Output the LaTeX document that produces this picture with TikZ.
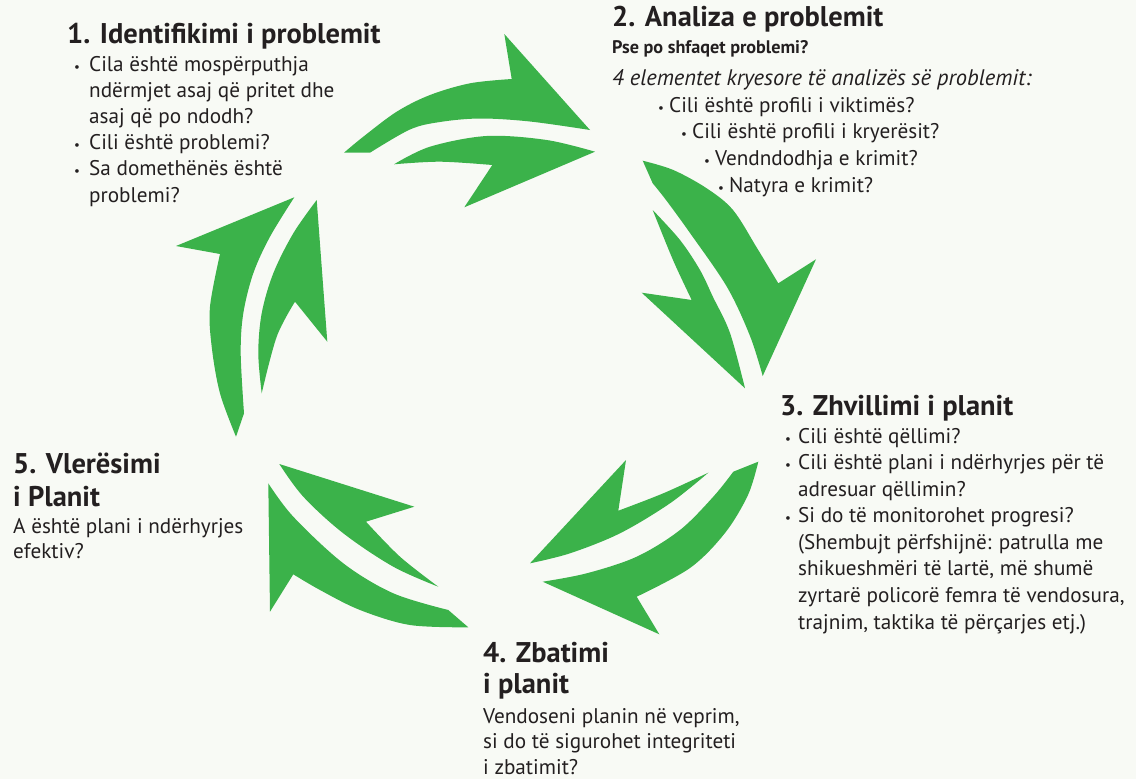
\documentclass[tikz,border=0pt]{standalone}
\usepackage{fontspec}
\setmainfont{PT Sans}
\definecolor{leaf}{RGB}{59,178,74}
\definecolor{ink}{RGB}{35,31,32}
\definecolor{paper}{RGB}{248,250,245}
\newcommand\bl{\makebox[15pt][l]{\fontsize{13}{13}\selectfont\textbullet}}
\newcommand\bls{\makebox[11pt][l]{\fontsize{13}{13}\selectfont\textbullet}}
\newcommand\blm{\makebox[13pt][l]{\fontsize{13}{13}\selectfont\textbullet}}
\begin{document}
\begin{tikzpicture}[x=1pt,y=-1pt,
  arrowpart/.style={fill=leaf},
  % multi-line nodes are anchored at the baseline of their last line
  heading/.style={anchor=base west,inner sep=0pt,align=left,text=ink,
    font=\fontsize{28.5}{32}\selectfont\bfseries},
  subhead/.style={anchor=base west,inner sep=0pt,align=left,text=ink,
    font=\fontsize{18.2}{22}\selectfont\bfseries},
  body/.style={anchor=base west,inner sep=0pt,align=left,text=ink,
    font=\fontsize{21.2}{26.2}\selectfont},
  smooth curve/.style={smooth,tension=0.55}]
\fill[paper] (0,0) rectangle (1136,779);
\useasboundingbox (0,0) rectangle (1136,779);

% ---- arrow pair between step 1 and step 2
\fill[arrowpart] (344,152.7) -- plot[smooth curve] coordinates {(344,152.7) (363.3,136.7) (396.7,111.7) (430,95) (470,83.3) (511.7,79)}
  -- (504.3,34) -- (590,130)
  -- plot[smooth curve] coordinates {(590,130) (530,121.5) (480,118.5) (440,122) (410,129.5) (370,152.7)} -- cycle;
\fill[arrowpart] (394,164.3) -- plot[smooth curve] coordinates {(394,164.3) (430,146.7) (486.7,136) (546.7,140) (595,151.7)}
  -- (464.3,207.3) -- (492.3,165)
  -- plot[smooth curve] coordinates {(492.3,165) (440,161.7) (394,164.3)} -- cycle;

% ---- arrow pair between step 2 and step 3
\fill[arrowpart] (642.7,160.7) -- plot[smooth curve] coordinates {(642.7,160.7) (673.3,170) (706.7,188.3) (733,210) (757,248) (778.3,283.3)}
  -- (816,259.3) -- (762.7,376)
  -- plot[smooth curve] coordinates {(762.7,376) (750,336) (727,287) (690,233) (666,200) (652.7,183.3)} -- cycle;
\fill[arrowpart] (652.7,210) -- plot[smooth curve] coordinates {(652.7,210) (680,240) (700,270) (713,297) (730,333) (745,388.3)}
  -- (641.7,292.7) -- (691.7,300)
  -- plot[smooth curve] coordinates {(691.7,300) (673,260) (652.7,210)} -- cycle;

% ---- arrow pair between step 3 and step 4
\fill[arrowpart] (758.3,461.7) -- plot[smooth curve] coordinates {(758.3,461.7) (748,495) (725,533) (690,568) (636.7,596.7)}
  -- (659.3,634.3) -- (542.7,581.7)
  -- plot[smooth curve] coordinates {(542.7,581.7) (586.7,573.3) (636.7,556.7) (680,530) (713.3,496.7) (733.3,471.7)} -- cycle;
\fill[arrowpart] (708.3,472.7) -- plot[smooth curve] coordinates {(708.3,472.7) (670,503.3) (620,533.3) (570,553.3) (530,563.3)}
  -- (626,460) -- (618.3,510.7)
  -- plot[smooth curve] coordinates {(618.3,510.7) (663.3,493.3) (708.3,472.7)} -- cycle;

% ---- arrow pair between step 4 and step 5
\fill[arrowpart] (468.3,627.3) -- plot[smooth curve] coordinates {(468.3,627.3) (410,625) (360,610) (320,590) (293.3,574.3)}
  -- (270,611.7) -- (268.3,483.3)
  -- plot[smooth curve] coordinates {(268.3,483.3) (293.3,516.7) (343.3,563.3) (393.3,593.3) (448.3,610)} -- cycle;
\fill[arrowpart] (438.3,586.7) -- plot[smooth curve] coordinates {(438.3,586.7) (393.3,566.7) (343.3,533.3) (303.3,496.7) (279.3,464)}
  -- (414.3,506.7) -- (366,521.7)
  -- plot[smooth curve] coordinates {(366,521.7) (400,556.7) (438.3,586.7)} -- cycle;

% ---- arrow pair between step 5 and step 1
\fill[arrowpart] (236,436.7) -- plot[smooth curve] coordinates {(236,436.7) (220,393.3) (211.7,346.7) (210,306.7) (220,254)}
  -- (176,246) -- (294.3,197.3)
  -- plot[smooth curve] coordinates {(294.3,197.3) (270,236.7) (253.3,273.3) (243.3,313.3) (240.7,353.3) (244,413.3)} -- cycle;
\fill[arrowpart] (261.7,393.3) -- plot[smooth curve] coordinates {(261.7,393.3) (258.3,353.3) (261.7,313.3) (273.3,273.3) (293.3,233.3) (316.7,200)}
  -- (327.3,341.7) -- (295,301.7)
  -- plot[smooth curve] coordinates {(295,301.7) (276.7,336.7) (261.7,393.3)} -- cycle;

% ---- step 1
\node[heading] (t1) at (67,43) {1. Identifikimi i problemit};
\node[body] (b1) at (74,202) {\bl Cila është mospërputhja\\
  \hspace*{15pt}ndërmjet asaj që pritet dhe\\
  \hspace*{15pt}asaj që po ndodh?\\
  \bl Cili është problemi?\\
  \bl Sa domethënës është\\
  \hspace*{15pt}problemi?};

% ---- step 2
\node[heading] (t2) at (612,27) {2. Analiza e problemit};
\node[subhead] (s2) at (612,53) {Pse po shfaqet problemi?};
\node[body,font=\fontsize{22.5}{26}\selectfont\itshape] (e2) at (612,85) {4 elementet kryesore të analizës së problemit:};
\node[body,font=\fontsize{21.2}{26.6}\selectfont] (b2) at (658,192) {\bls Cili është profili i viktimës?\\
  \hspace*{23pt}\bls Cili është profili i kryerësit?\\
  \hspace*{46pt}\bls Vendndodhja e krimit?\\
  \hspace*{60pt}\bls Natyra e krimit?};

% ---- step 3
\node[heading] (t3) at (780,415) {3. Zhvillimi i planit};
\node[body,font=\fontsize{21.2}{26.57}\selectfont] (b3) at (785,629) {\blm Cili është qëllimi?\\
  \blm Cili është plani i ndërhyrjes për të\\
  \hspace*{13pt}adresuar qëllimin?\\
  \blm Si do të monitorohet progresi?\\
  \hspace*{13pt}(Shembujt përfshijnë: patrulla me\\
  \hspace*{13pt}shikueshmëri të lartë, më shumë\\
  \hspace*{13pt}zyrtarë policorë femra të vendosura,\\
  \hspace*{13pt}trajnim, taktika të përçarjes etj.)};

% ---- step 4
\node[heading,font=\fontsize{28.5}{31}\selectfont\bfseries] (t4) at (483,693) {4. Zbatimi\\i planit};
\node[body,font=\fontsize{21.2}{25.5}\selectfont] (b4) at (483,774) {Vendoseni planin në veprim,\\
  si do të sigurohet integriteti\\
  i zbatimit?};

% ---- step 5
\node[heading,font=\fontsize{28.5}{33}\selectfont\bfseries] (t5) at (13,506) {5. Vlerësimi\\i Planit};
\node[body,font=\fontsize{21.2}{25}\selectfont] (b5) at (13,558) {A është plani i ndërhyrjes\\efektiv?};
\end{tikzpicture}
\end{document}
